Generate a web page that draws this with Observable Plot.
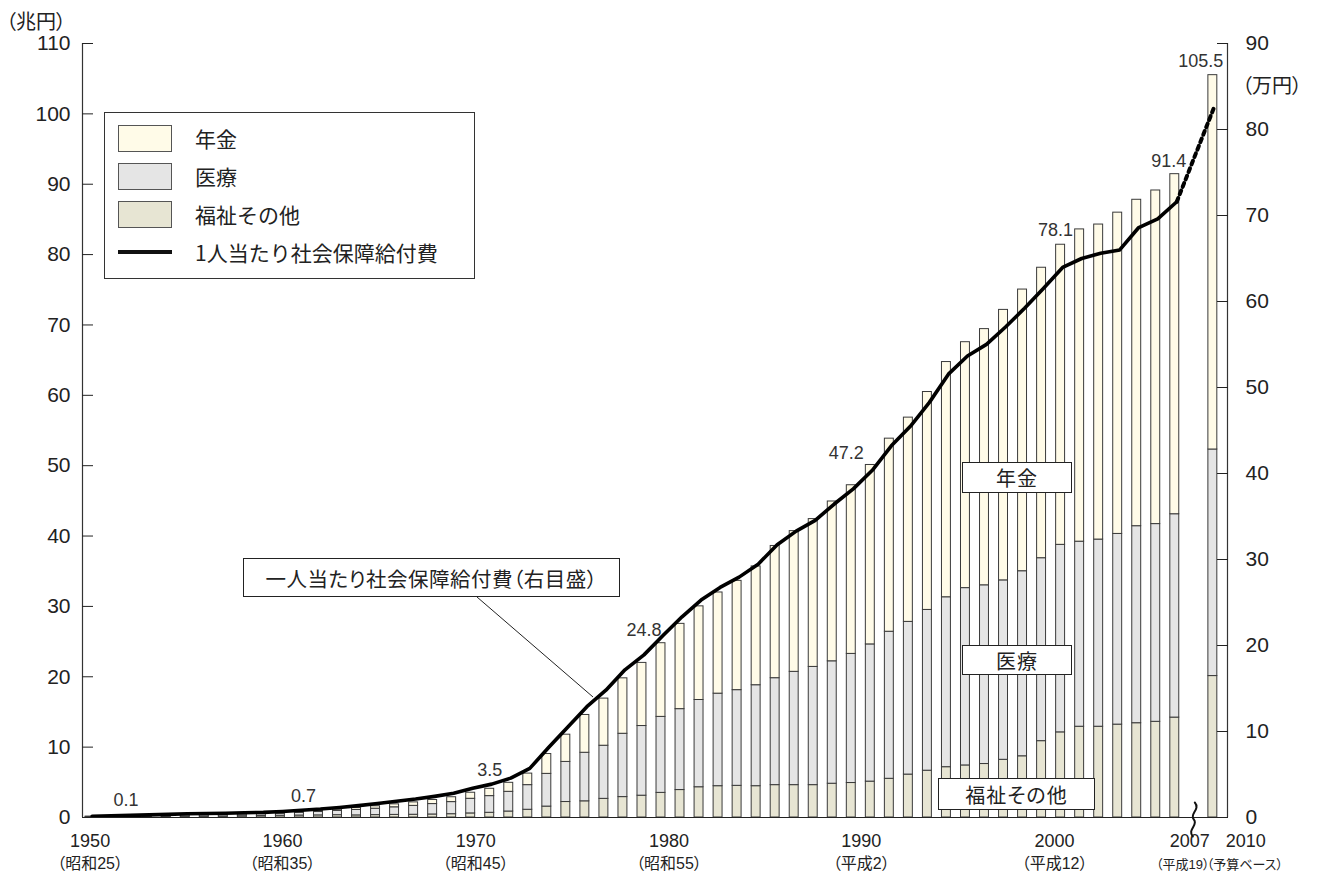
<!DOCTYPE html>
<html>
<head>
<meta charset="utf-8">
<script src="https://cdn.jsdelivr.net/npm/d3@7"></script>
<script src="https://cdn.jsdelivr.net/npm/@observablehq/plot@0.6"></script>
<style>
  body { margin: 0; background: #fff; }
  #wrap { position: relative; width: 1321px; height: 872px; font-family: "Liberation Sans", "Noto Sans CJK JP", sans-serif; color: #222; }
  #wrap svg { position: absolute; left: 0; top: 0; }
  .ov { position: absolute; font-feature-settings: "palt"; white-space: nowrap; }
  .box { position: absolute; background: #fff; border: 1.5px solid #222; box-sizing: border-box; display: flex; align-items: center; justify-content: center; font-size: 20px; font-family: "Noto Sans CJK JP", sans-serif; font-feature-settings: "palt"; letter-spacing: 1px; }
  #legend { position: absolute; left: 104px; top: 112px; width: 371px; height: 167px; border: 1.5px solid #333; box-sizing: border-box; background: #fff; padding-top: 6px; }
  .lrow { height: 38px; display: flex; align-items: center; }
  .sw { width: 54px; height: 27px; margin-left: 13px; border: 1.5px solid #555; box-sizing: border-box; }
  .swl { width: 54px; height: 4px; margin-left: 13px; background: #111; }
  .lt { margin-left: 23px; font-size: 21px; font-family: "Noto Sans CJK JP", sans-serif; }
</style>
</head>
<body>
<div id="wrap"></div>
<script>
// ---- data ----
const years = [1950,1951,1952,1953,1954,1955,1956,1957,1958,1959,
               1960,1961,1962,1963,1964,1965,1966,1967,1968,1969,
               1970,1971,1972,1973,1974,1975,1976,1977,1978,1979,
               1980,1981,1982,1983,1984,1985,1986,1987,1988,1989,
               1990,1991,1992,1993,1994,1995,1996,1997,1998,1999,
               2000,2001,2002,2003,2004,2005,2006,2007,2010];
// 福祉その他 (兆円)
const welfare = [0.06,0.06,0.08,0.09,0.10,0.16,0.16,0.16,0.18,0.20,
                 0.25,0.28,0.30,0.33,0.30,0.34,0.37,0.39,0.43,0.47,
                 0.58,0.67,0.85,1.10,1.55,2.20,2.30,2.65,2.90,3.10,
                 3.50,3.90,4.30,4.45,4.50,4.45,4.60,4.60,4.60,4.80,
                 4.90,5.10,5.50,6.10,6.65,7.15,7.40,7.60,8.20,8.70,
                 10.85,12.10,12.90,12.90,13.20,13.40,13.60,14.20,20.10];
// 医療 (兆円)
const medical = [0.07,0.09,0.12,0.15,0.17,0.19,0.20,0.22,0.26,0.28,
                 0.29,0.38,0.48,0.61,0.77,0.91,1.08,1.26,1.48,1.72,
                 2.08,2.37,2.80,3.50,4.65,5.70,6.90,7.55,9.00,9.90,
                 10.80,11.50,12.40,13.15,13.60,14.35,15.20,16.10,16.80,17.40,
                 18.35,19.50,20.90,21.70,22.85,24.15,25.20,25.40,25.50,26.30,
                 26.00,26.65,26.30,26.60,27.10,28.00,28.10,28.90,32.20];
// 年金 (兆円)
const pension = [0.00,0.01,0.02,0.02,0.03,0.04,0.05,0.06,0.07,0.08,
                 0.11,0.13,0.16,0.19,0.27,0.35,0.42,0.50,0.58,0.69,
                 0.86,1.04,1.28,1.64,2.82,3.87,5.37,6.70,7.88,8.97,
                 10.47,12.12,13.31,14.38,15.53,16.88,18.79,20.00,21.01,22.71,
                 23.97,25.50,27.44,29.03,30.97,33.43,34.95,36.41,38.44,40.03,
                 41.28,42.65,44.38,44.77,45.66,46.39,47.41,48.33,53.20];
// 1人当たり社会保障給付費 (万円, 右目盛)
const perCapita = [0.15,0.19,0.25,0.30,0.36,0.43,0.46,0.49,0.56,0.60,
                   0.70,0.84,0.98,1.17,1.38,1.63,1.89,2.15,2.46,2.81,
                   3.39,3.88,4.58,5.71,8.16,10.52,12.88,14.80,17.17,18.91,
                   21.16,23.34,25.28,26.75,27.95,29.46,31.72,33.30,34.55,36.45,
                   38.21,40.37,43.22,45.49,48.27,51.55,53.67,55.01,57.04,59.22,
                   61.54,63.96,65.00,65.60,66.00,68.60,69.60,71.60,82.80];

const categories = ["年金", "医療", "福祉その他"];
const categoryColors = ["#fffbe8", "#e5e5e5", "#e7e5d3"];

const labelYears = [1950, 1960, 1970, 1980, 1990, 2000, 2007, 2010];
const labelTexts = ["0.1", "0.7", "3.5", "24.8", "47.2", "78.1", "91.4", "105.5"];

const tickYears = [1950, 1960, 1970, 1980, 1990, 2000, 2007, 2010];
const tickTexts = ["1950", "1960", "1970", "1980", "1990", "2000", "2007", "2010"];
const eraLabels = ["（昭和25）", "（昭和35）", "（昭和45）", "（昭和55）", "（平成2）", "（平成12）", "（平成19）", "（予算ベース）"];

const leftTicks = [0,10,20,30,40,50,60,70,80,90,100,110];
const rightTicks = [0,10,20,30,40,50,60,70,80,90];

// ---- layout helpers (styling only) ----
const slotOf = y => (y <= 2007 ? y - 1950 : 59);   // gap slot 58 = break
const breakSlot = 58;
const K = 110 / 90;                                  // right scale -> left scale
const xDomain = [-0.4, 59.77];

const rows = years.flatMap((y, i) => [
  {year: y, slot: slotOf(y), cat: "福祉その他", value: welfare[i]},
  {year: y, slot: slotOf(y), cat: "医療", value: medical[i]},
  {year: y, slot: slotOf(y), cat: "年金", value: pension[i]}
]);
const totalOf = y => { const i = years.indexOf(y); return welfare[i] + medical[i] + pension[i]; };
const lineRows = years.map((y, i) => ({year: y, slot: slotOf(y), v: perCapita[i] * K}));
const solidLine = lineRows.filter(d => d.year <= 2007);
const dottedLine = lineRows.filter(d => d.year >= 2007);

const half = 0.235;
const labelOffsets = [[36, -11], [23, -11], [19, -17], [-17, -7], [-5, -26], [14, -32], [-6, -7], [-12, -8]];
const valueLabelMarks = labelYears.map((y, i) => Plot.text([y], {
  x: d => slotOf(d), y: d => totalOf(d), text: () => labelTexts[i],
  dx: labelOffsets[i][0], dy: labelOffsets[i][1], lineAnchor: "bottom",
  fontSize: 18, fill: "#333"
}));

// x tick label styling: per-label horizontal nudges, sizes
const tickDx = [0, 2, 5, 8, 10, 13, 15, 33];
const eraDx = [0, 2, 5, 8, 10, 13, 8, 32];
const eraSize = [16, 16, 16, 16, 16, 16, 13, 13];
const eraPad = [40, 40, 40, 40, 40, 40, 42, 42];
const xLabelMarks = tickYears.flatMap((y, i) => [
  Plot.axisX({anchor: "bottom", ticks: [slotOf(y)], tickFormat: () => tickTexts[i], tickSize: 0, tickPadding: 17, fontSize: 18, label: null, dx: tickDx[i]}),
  Plot.axisX({anchor: "bottom", ticks: [slotOf(y)], tickFormat: () => eraLabels[i], tickSize: 0, tickPadding: eraPad[i], fontSize: eraSize[i], label: null, dx: eraDx[i]})
]);

// axis-break squiggle drawn as a custom vector shape
const squiggle = {
  draw(context, l) {
    context.moveTo(-1, 0);
    context.bezierCurveTo(-7, -l * 0.2, 5, -l * 0.35, 0, -l * 0.5);
    context.bezierCurveTo(-5, -l * 0.65, 7, -l * 0.8, 1, -l);
  }
};

const chart = Plot.plot({
  width: 1321, height: 872,
  marginLeft: 82, marginRight: 94, marginTop: 43, marginBottom: 55,
  x: {domain: xDomain, axis: null},
  y: {domain: [0, 110], axis: null},
  color: {domain: categories, range: categoryColors},
  style: {fontFamily: '"Liberation Sans", "Noto Sans CJK JP", sans-serif', background: "transparent", overflow: "visible", color: "#222"},
  marks: [
    Plot.rectY(rows, {x1: d => d.slot - half, x2: d => d.slot + half, y: "value", fill: "cat", stroke: "#3a3a3a", strokeWidth: 1}),
    Plot.line(solidLine, {x: "slot", y: "v", stroke: "#000", strokeWidth: 3.6, dx: 2, strokeLinejoin: "round"}),
    Plot.line(dottedLine, {x: "slot", y: "v", stroke: "#000", strokeWidth: 4, dx: 2, strokeDasharray: "4,4"}),
    ...valueLabelMarks,
    Plot.ruleX([xDomain[0]], {stroke: "#333", strokeWidth: 1.2}),
    Plot.ruleX([xDomain[1]], {stroke: "#333", strokeWidth: 1.2}),
    Plot.ruleY([0], {stroke: "#222", strokeWidth: 1.2}),
    Plot.axisY({anchor: "left", ticks: leftTicks, tickSize: -11, tickPadding: 23, fontSize: 21, label: null}),
    Plot.axisY({anchor: "right", ticks: rightTicks.map(v => v * K), tickFormat: d => String(Math.round(d / K)), tickSize: -11, tickPadding: 29, fontSize: 21, label: null}),
    ...xLabelMarks,
    Plot.vector([breakSlot], {x: d => d, y: () => 0, length: 34, anchor: "middle", shape: squiggle, stroke: "#111", strokeWidth: 2, dy: 2})
  ]
});

const wrap = document.getElementById("wrap");
wrap.appendChild(chart);
chart.querySelectorAll("text").forEach(t => t.style.fontFeatureSettings = '"palt"');

// overlays: unit labels, legend, annotation boxes
function addDiv(cls, css, html) {
  const d = document.createElement("div");
  d.className = cls; d.style.cssText = css; d.innerHTML = html; wrap.appendChild(d); return d;
}
addDiv("ov", "left:6px;top:6px;font-size:20px;", "（兆円）");
addDiv("ov", "left:1242px;top:70px;font-size:20px;", "（万円）");

const legendItems = [
  {label: categories[0], color: categoryColors[0]},
  {label: categories[1], color: categoryColors[1]},
  {label: categories[2], color: categoryColors[2]},
  {label: "1人当たり社会保障給付費", line: true}
];
addDiv("", "", "").id = "legend";
const lg = document.getElementById("legend");
legendItems.forEach(it => {
  const r = document.createElement("div"); r.className = "lrow";
  r.innerHTML = (it.line ? '<div class="swl"></div>' : `<div class="sw" style="background:${it.color}"></div>`) +
                `<div class="lt">${it.label}</div>`;
  lg.appendChild(r);
});

addDiv("box", "left:962px;top:462px;width:110px;height:31px;", "年金");
addDiv("box", "left:962px;top:645px;width:110px;height:30px;", "医療");
addDiv("box", "left:938px;top:778px;width:157px;height:32px;", "福祉その他");
addDiv("box", "left:243px;top:558px;width:377px;height:39px;font-size:20.5px;letter-spacing:0.5px;", "一人当たり社会保障給付費（右目盛）");

// leader line from the callout box to the per-capita line
const ns = "http://www.w3.org/2000/svg";
const ls = document.createElementNS(ns, "svg");
ls.setAttribute("width", 1321); ls.setAttribute("height", 872);
ls.style.cssText = "position:absolute;left:0;top:0;pointer-events:none;";
const ln = document.createElementNS(ns, "line");
ln.setAttribute("x1", 477); ln.setAttribute("y1", 597); ln.setAttribute("x2", 593); ln.setAttribute("y2", 697);
ln.setAttribute("stroke", "#222"); ln.setAttribute("stroke-width", 1);
ls.appendChild(ln);
wrap.appendChild(ls);
</script>
</body>
</html>
